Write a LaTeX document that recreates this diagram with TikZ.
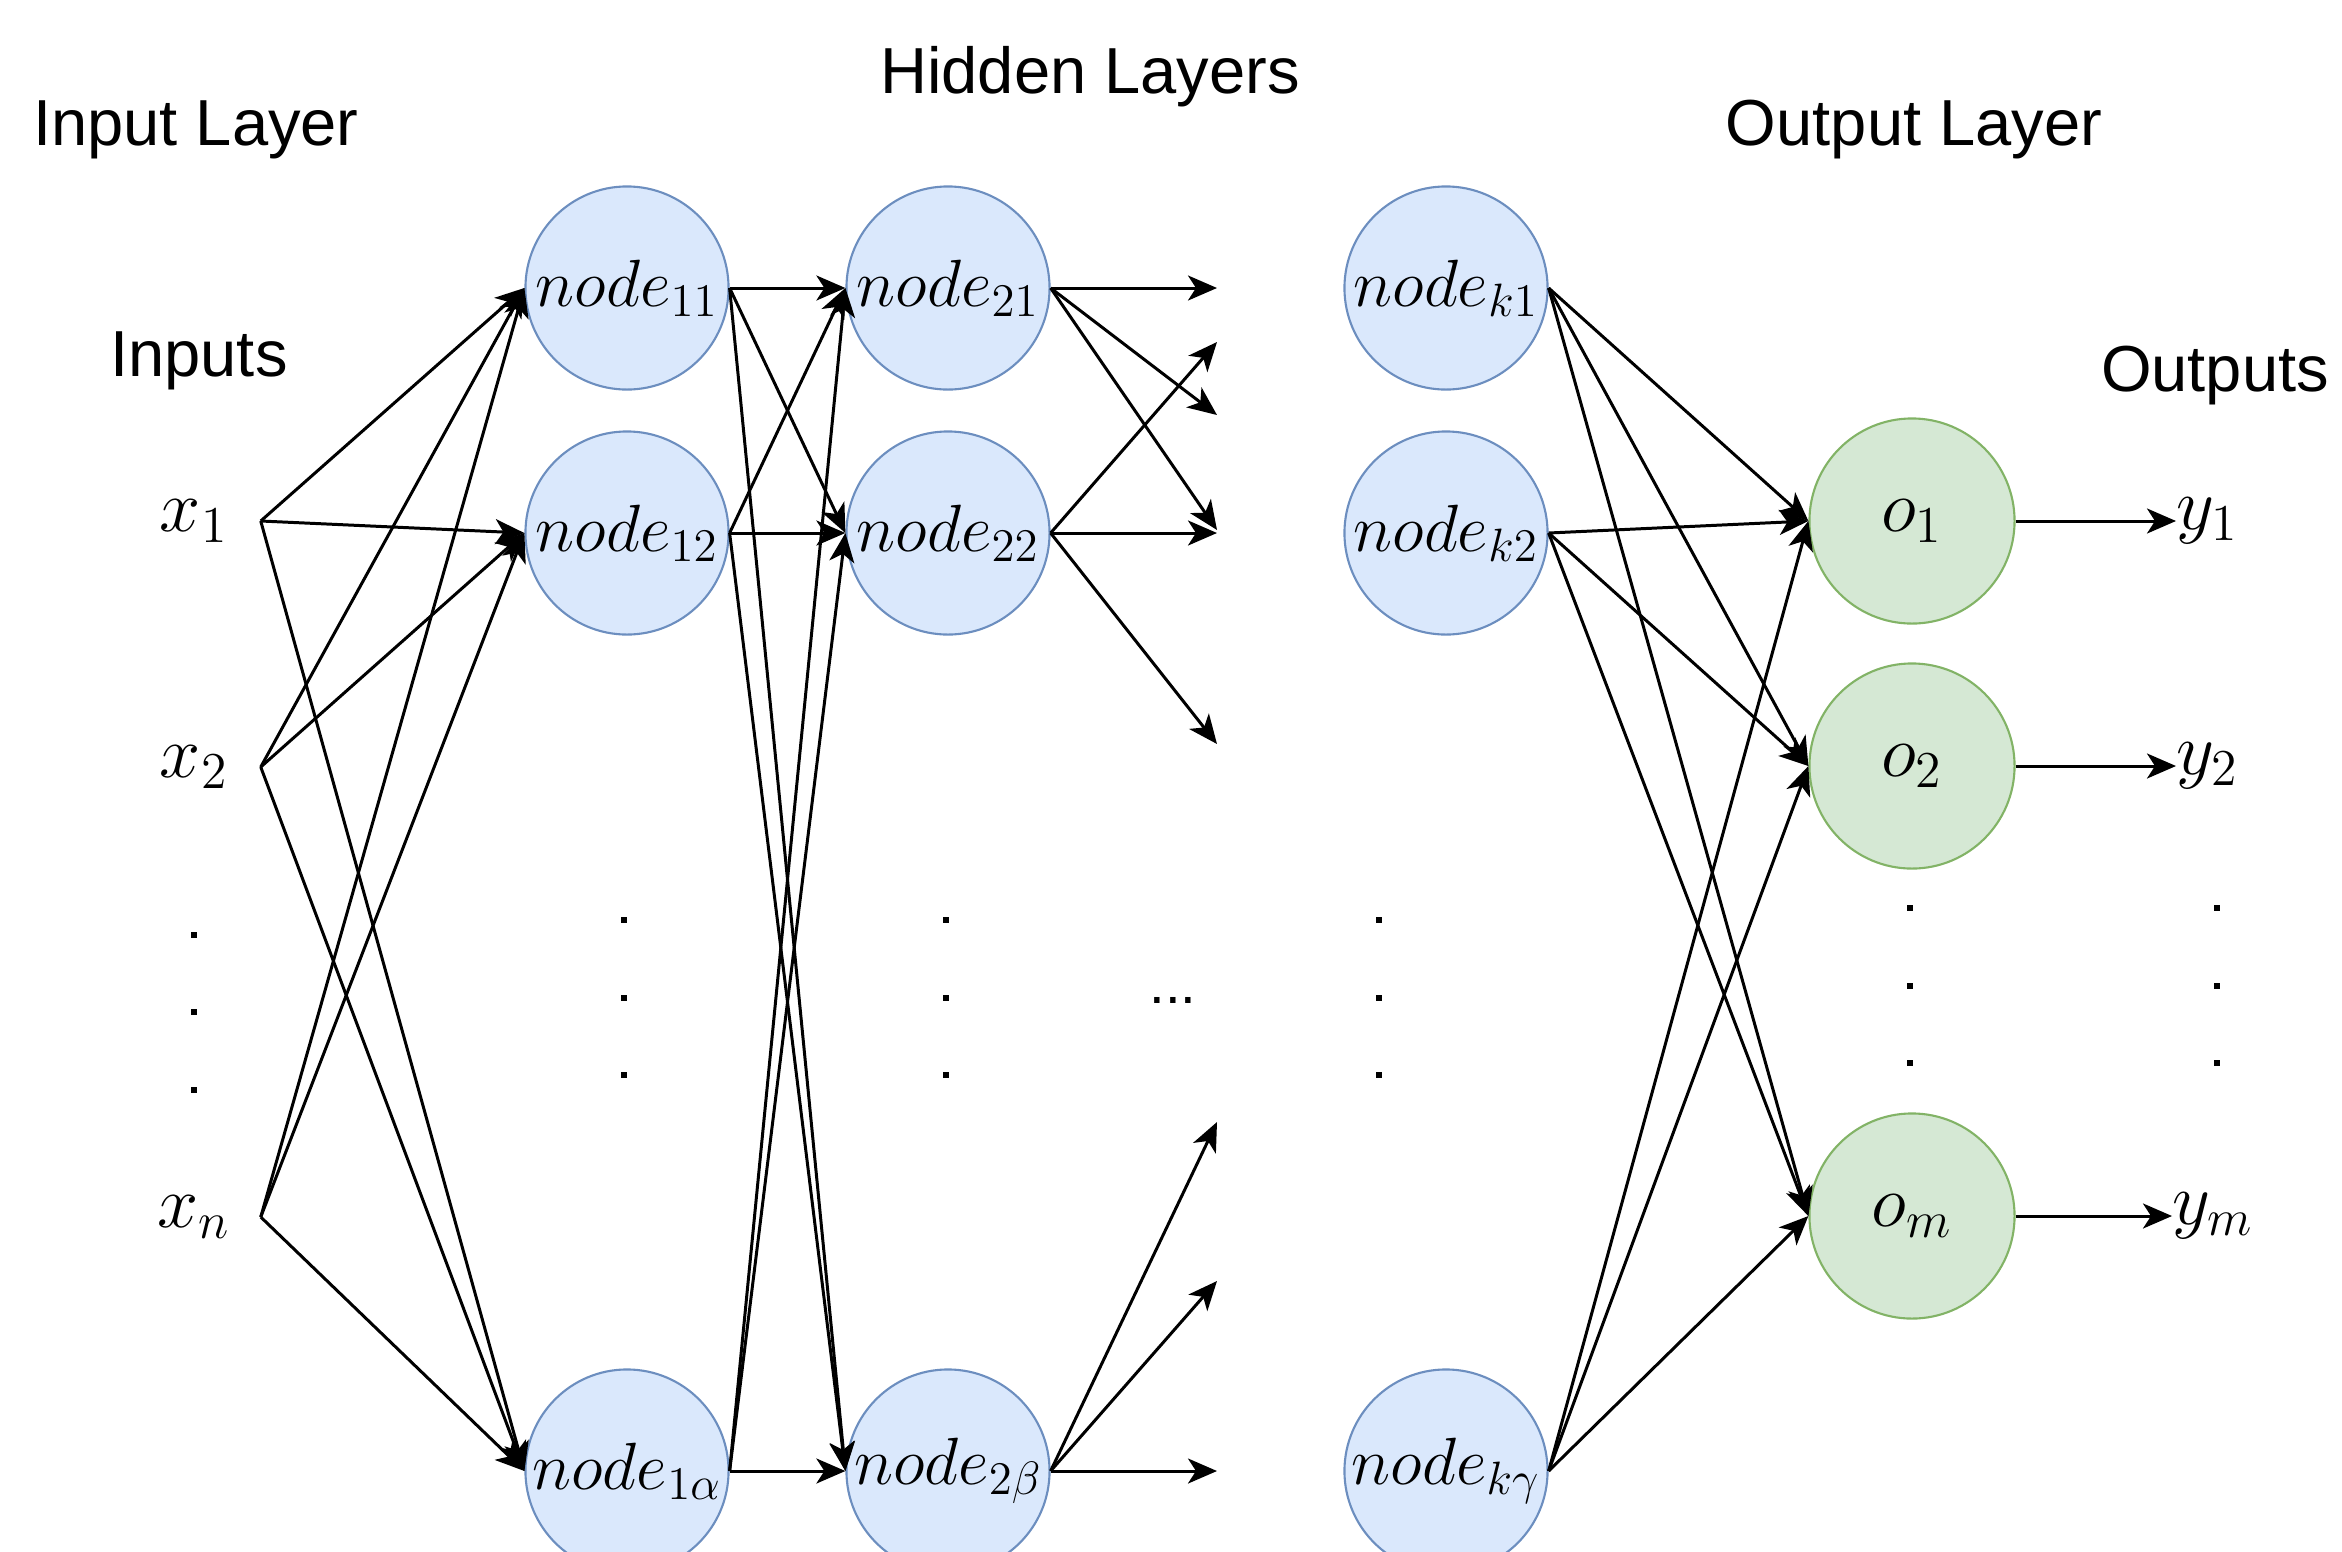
\documentclass[tikz,border=0pt]{standalone}
\usepackage{fix-cm}
\usepackage{fontspec}
\setmainfont{Liberation Sans}
\usetikzlibrary{arrows.meta}
\definecolor{hidfill}{HTML}{DAE8FC}
\definecolor{hidborder}{HTML}{6C8EBF}
\definecolor{outfill}{HTML}{D5E8D4}
\definecolor{outborder}{HTML}{82B366}
\begin{document}
\begin{tikzpicture}[x=0.01cm,y=-0.01cm,
  hid/.style={circle, draw=hidborder, fill=hidfill, line width=0.6pt, minimum size=2.03cm, inner sep=0pt, font=\fontsize{19}{23}\selectfont},
  outn/.style={circle, draw=outborder, fill=outfill, line width=0.6pt, minimum size=2.05cm, inner sep=0pt, font=\fontsize{21}{25}\selectfont},
  inlab/.style={minimum width=1.32cm, inner sep=0pt, font=\fontsize{21}{25}\selectfont},
  outlab/.style={anchor=west, inner sep=0pt, font=\fontsize{21}{25}\selectfont},
  title/.style={anchor=base, inner sep=0pt, font=\fontsize{18.5}{22}\selectfont},
  conn/.style={-{Stealth[length=0.29cm,width=0.25cm,inset=0.08cm]}, line width=0.85pt}]
\useasboundingbox (0,0) rectangle (2342,1551);

% titles
\node[title] (tin) at (196,145) {Input Layer};
\node[title] (thid) at (1090,93) {Hidden Layers};
\node[title] (tout) at (1914,145) {Output Layer};
\node[title] (tinputs) at (199,376) {Inputs};
\node[title] (toutputs) at (2215,391) {Outputs};

% hidden nodes
\node[hid] (n11) at (627,288) {$node_{11}$};
\node[hid] (n12) at (627,533) {$node_{12}$};
\node[hid] (n1a) at (627,1471) {$node_{1\alpha}$};
\node[hid] (n21) at (948,288) {$node_{21}$};
\node[hid] (n22) at (948,533) {$node_{22}$};
\node[hid] (n2b) at (948,1471) {$node_{2\beta}$};
\node[hid] (nk1) at (1446,288) {$node_{k1}$};
\node[hid] (nk2) at (1446,533) {$node_{k2}$};
\node[hid] (nkg) at (1446,1471) {$node_{k\gamma}$};

% output nodes
\node[outn] (o1) at (1912,521) {$o_1$};
\node[outn] (o2) at (1912,766) {$o_2$};
\node[outn] (om) at (1912,1216) {$o_m$};

% input labels
\node[inlab] (x1) at (194,521) {$x_1$};
\node[inlab] (x2) at (194,767) {$x_2$};
\node[inlab] (xn) at (194,1217) {$x_n$};

% output labels
\node[outlab] (y1) at (2176,521) {$y_1$};
\node[outlab] (y2) at (2176,766) {$y_2$};
\node[outlab] (ym) at (2172,1216) {$y_m$};

% dangling arrow ends
\coordinate (d21a) at (1217,288);
\coordinate (d21b) at (1217,415);
\coordinate (d21c) at (1217,530);
\coordinate (d22a) at (1217,342);
\coordinate (d22b) at (1217,533);
\coordinate (d22c) at (1217,744);
\coordinate (d2ba) at (1217,1122);
\coordinate (d2bb) at (1217,1281);
\coordinate (d2bc) at (1217,1471);

% connectors
\foreach \s in {x1,x2,xn}
  \foreach \t in {n11,n12,n1a}
    \draw[conn] (\s.east) -- (\t.west);
\foreach \s in {n11,n12,n1a}
  \foreach \t in {n21,n22,n2b}
    \draw[conn] (\s.east) -- (\t.west);
\foreach \t in {d21a,d21b,d21c} \draw[conn] (n21.east) -- (\t);
\foreach \t in {d22a,d22b,d22c} \draw[conn] (n22.east) -- (\t);
\foreach \t in {d2ba,d2bb,d2bc} \draw[conn] (n2b.east) -- (\t);
\foreach \s in {nk1,nk2,nkg}
  \foreach \t in {o1,o2,om}
    \draw[conn] (\s.east) -- (\t.west);
\draw[conn] (o1.east) -- (y1.west);
\draw[conn] (o2.east) -- (y2.west);
\draw[conn] (om.east) -- (ym.west);

% vertical dots
\foreach \x/\y in {194/935,194/1012,194/1090,
                   624/920,624/998,624/1075,
                   946/920,946/998,946/1075,
                   1379/920,1379/998,1379/1075,
                   1910/908,1910/986,1910/1063,
                   2217/908,2217/986,2217/1063}
  \fill (\x-3,\y-3) rectangle ++(6,6);
\node[anchor=base, inner sep=0pt, font=\fontsize{16}{19}\selectfont] (hdots) at (1173,1003) {...};
\end{tikzpicture}
\end{document}
